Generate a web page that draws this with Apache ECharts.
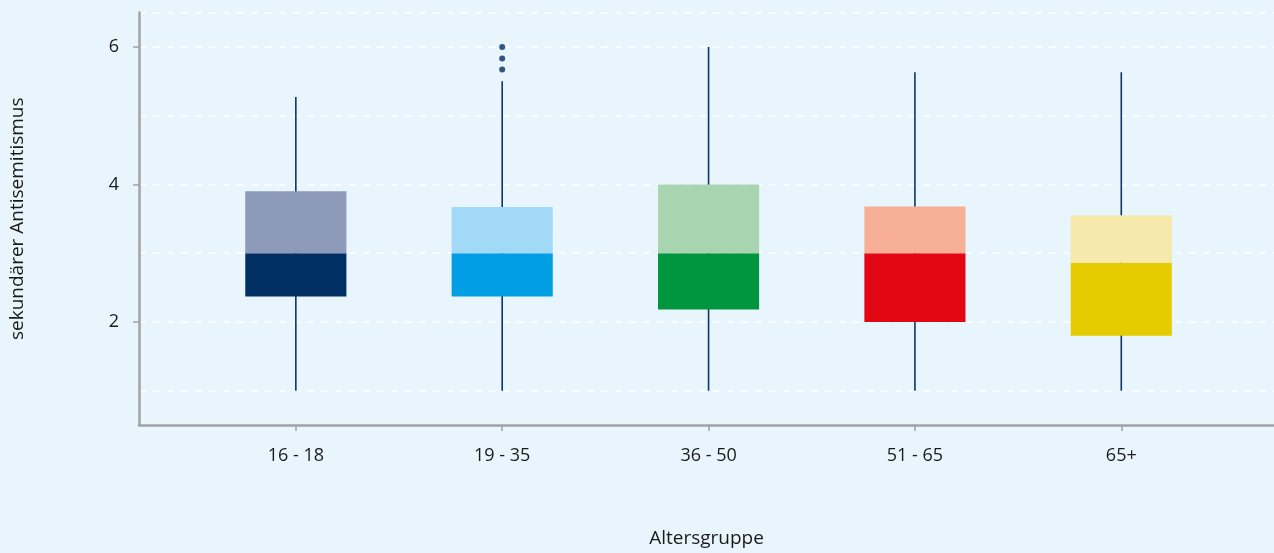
<!DOCTYPE html>
<html>
<head>
<meta charset="utf-8">
<script src="https://cdn.jsdelivr.net/npm/echarts@6/dist/echarts.min.js"></script>
<style>
html,body{margin:0;padding:0;background:#e9f5fd;}
#chart{width:1274px;height:553px;}
</style>
</head>
<body>
<div id="chart"></div>
<script>
const categories = ['16 - 18', '19 - 35', '36 - 50', '51 - 65', '65+'];
const whiskerLow = [1, 1, 1, 1, 1];
const q1Values = [2.37, 2.37, 2.18, 2.0, 1.8];
const medianValues = [3.0, 3.0, 3.0, 3.0, 2.86];
const q3Values = [3.9, 3.67, 4.0, 3.68, 3.55];
const whiskerHigh = [5.27, 5.5, 6.0, 5.63, 5.63];
const outlierGroup = [2, 2, 2];
const outlierValues = [6.0, 5.83, 5.67];
const yTickLabels = [2, 4, 6];
const yGridValues = [1, 2, 3, 4, 5, 6, 6.5];

const darkColors = ['#002f63', '#009fe3', '#009640', '#e30613', '#e5cc00'];
const lightColors = ['#8e9aba', '#a2d9f7', '#a8d4af', '#f7b096', '#f5e9ab'];

const boxData = categories.map((c, i) => [i + 1, whiskerLow[i], q1Values[i], medianValues[i], q3Values[i], whiskerHigh[i]]);
const outlierData = outlierGroup.map((g, i) => [g, outlierValues[i]]);
const catPositions = categories.map((c, i) => i + 1);

const textColor = '#1a1a1a';
const font = 'Open Sans';
const gridLineStyle = {color: '#ffffff', type: [7, 7], width: 1.5};

const chart = echarts.init(document.getElementById('chart'), null, {renderer: 'canvas'});
chart.setOption({
  backgroundColor: '#e9f5fd',
  animation: false,
  grid: {left: 138, right: 0, top: 12.5, bottom: 123.5, containLabel: false},
  xAxis: {
    type: 'value',
    min: 0.24,
    max: 5.74,
    name: 'Altersgruppe',
    nameLocation: 'middle',
    nameGap: 104,
    nameTextStyle: {color: textColor, fontSize: 19, fontFamily: font},
    axisLine: {show: true, onZero: false, lineStyle: {color: '#a3a3a3', width: 2.5}},
    axisTick: {show: true, length: 6, customValues: catPositions, lineStyle: {color: '#a3a3a3', width: 1.5}},
    axisLabel: {
      customValues: catPositions,
      margin: 22,
      color: textColor, fontSize: 18, fontFamily: font,
      formatter: v => categories[Math.round(v) - 1] || ''
    },
    splitLine: {show: false}
  },
  yAxis: [
    {
      type: 'value',
      min: 0.5,
      max: 6.5,
      name: 'sekundärer Antisemitismus',
      nameLocation: 'middle',
      nameGap: 112,
      nameTextStyle: {color: textColor, fontSize: 19, fontFamily: font},
      axisLine: {show: true, onZero: false, lineStyle: {color: '#a3a3a3', width: 2.5}},
      axisTick: {show: true, length: 6, customValues: yTickLabels, lineStyle: {color: '#a3a3a3', width: 1.5}},
      axisLabel: {
        customValues: yTickLabels,
        margin: 20,
        color: textColor, fontSize: 18, fontFamily: font
      },
      splitLine: {show: false},
      z: 3
    },
    {
      type: 'value',
      min: 0.5,
      max: 6.5,
      position: 'left',
      axisLine: {show: false},
      axisTick: {show: false, customValues: yGridValues},
      axisLabel: {show: false, customValues: yGridValues},
      splitLine: {show: true, lineStyle: gridLineStyle},
      z: 0
    }
  ],
  series: [
    {
      type: 'custom',
      data: boxData,
      encode: {x: 0, y: [1, 2, 3, 4, 5]},
      renderItem: function (params, api) {
        const i = api.value(0);
        const idx = Math.round(i) - 1;
        const pLow = api.coord([i, api.value(1)]);
        const pQ1 = api.coord([i, api.value(2)]);
        const pMed = api.coord([i, api.value(3)]);
        const pQ3 = api.coord([i, api.value(4)]);
        const pHigh = api.coord([i, api.value(5)]);
        const w = api.size([0.49, 0])[0];
        return {
          type: 'group',
          children: [
            {type: 'line', shape: {x1: pLow[0], y1: pLow[1], x2: pHigh[0], y2: pHigh[1]},
             style: {stroke: '#0d3566', lineWidth: 1.6}},
            {type: 'rect', shape: {x: pMed[0] - w / 2, y: pMed[1], width: w, height: pQ1[1] - pMed[1]},
             style: {fill: darkColors[idx]}},
            {type: 'rect', shape: {x: pQ3[0] - w / 2, y: pQ3[1], width: w, height: pMed[1] - pQ3[1]},
             style: {fill: lightColors[idx]}}
          ]
        };
      }
    },
    {
      type: 'scatter',
      data: outlierData,
      symbol: 'circle',
      symbolSize: 6,
      itemStyle: {color: '#002f63'}
    }
  ]
});
</script>
</body>
</html>
